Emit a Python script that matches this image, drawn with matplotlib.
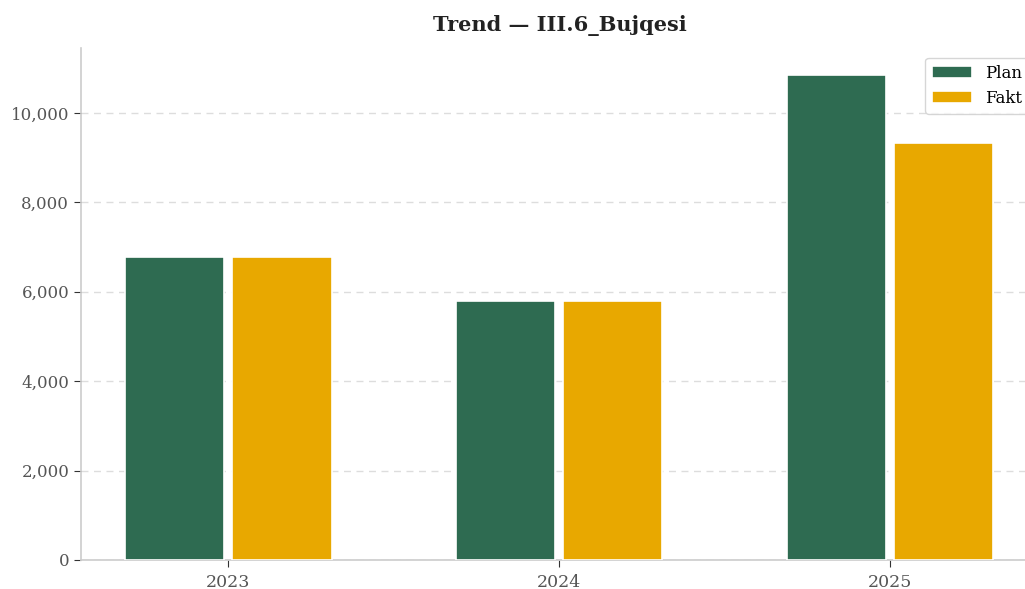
import numpy as np
import matplotlib
matplotlib.use("Agg")
import matplotlib.pyplot as plt
from matplotlib.ticker import FuncFormatter

years = ["2023", "2024", "2025"]
plan = [6770, 5785, 10850]
fakt = [6770, 5785, 9325]

plt.rcParams['font.family'] = ['DejaVu Serif']

fig = plt.figure(figsize=(10.25, 5.89), dpi=100)
ax = fig.add_axes([81 / 1025, 29 / 589, (1039 - 81) / 1025, 512 / 589])

x = np.arange(len(years))
w = 0.3
ax.bar(x - 0.162, plan, w, color="#2e6b51", edgecolor="white", linewidth=1.2, label="Plan", zorder=3)
ax.bar(x + 0.162, fakt, w, color="#e8a800", edgecolor="white", linewidth=1.2, label="Fakt", zorder=3)

ax.set_xlim(-0.445, 2.45)
ax.set_ylim(0, 11450)
ax.set_xticks(x)
ax.set_xticklabels(years)
ax.yaxis.set_major_formatter(FuncFormatter(lambda v, p: f"{int(v):,}"))
ax.set_yticks([0, 2000, 4000, 6000, 8000, 10000])

ax.grid(axis="y", linestyle=(0, (5, 4)), color="#dddddd", linewidth=1, zorder=0)
for s in ["top", "right"]:
    ax.spines[s].set_visible(False)
for s in ["left", "bottom"]:
    ax.spines[s].set_color("#cccccc")
    ax.spines[s].set_linewidth(1.2)
ax.tick_params(axis="both", labelsize=12, labelcolor="#555555", color="#333333", length=5)
ax.tick_params(axis="x", labelsize=12.5, pad=5)

ax.set_title("Trend — III.6_Bujqesi", fontsize=15, fontweight="bold", color="#222222", pad=12)
leg = ax.legend(loc="upper right", fontsize=12, frameon=True, edgecolor="#cccccc",
                bbox_to_anchor=(0.993, 0.987), borderaxespad=0.2, handlelength=2.4)

fig.savefig("out.png", dpi=100)
